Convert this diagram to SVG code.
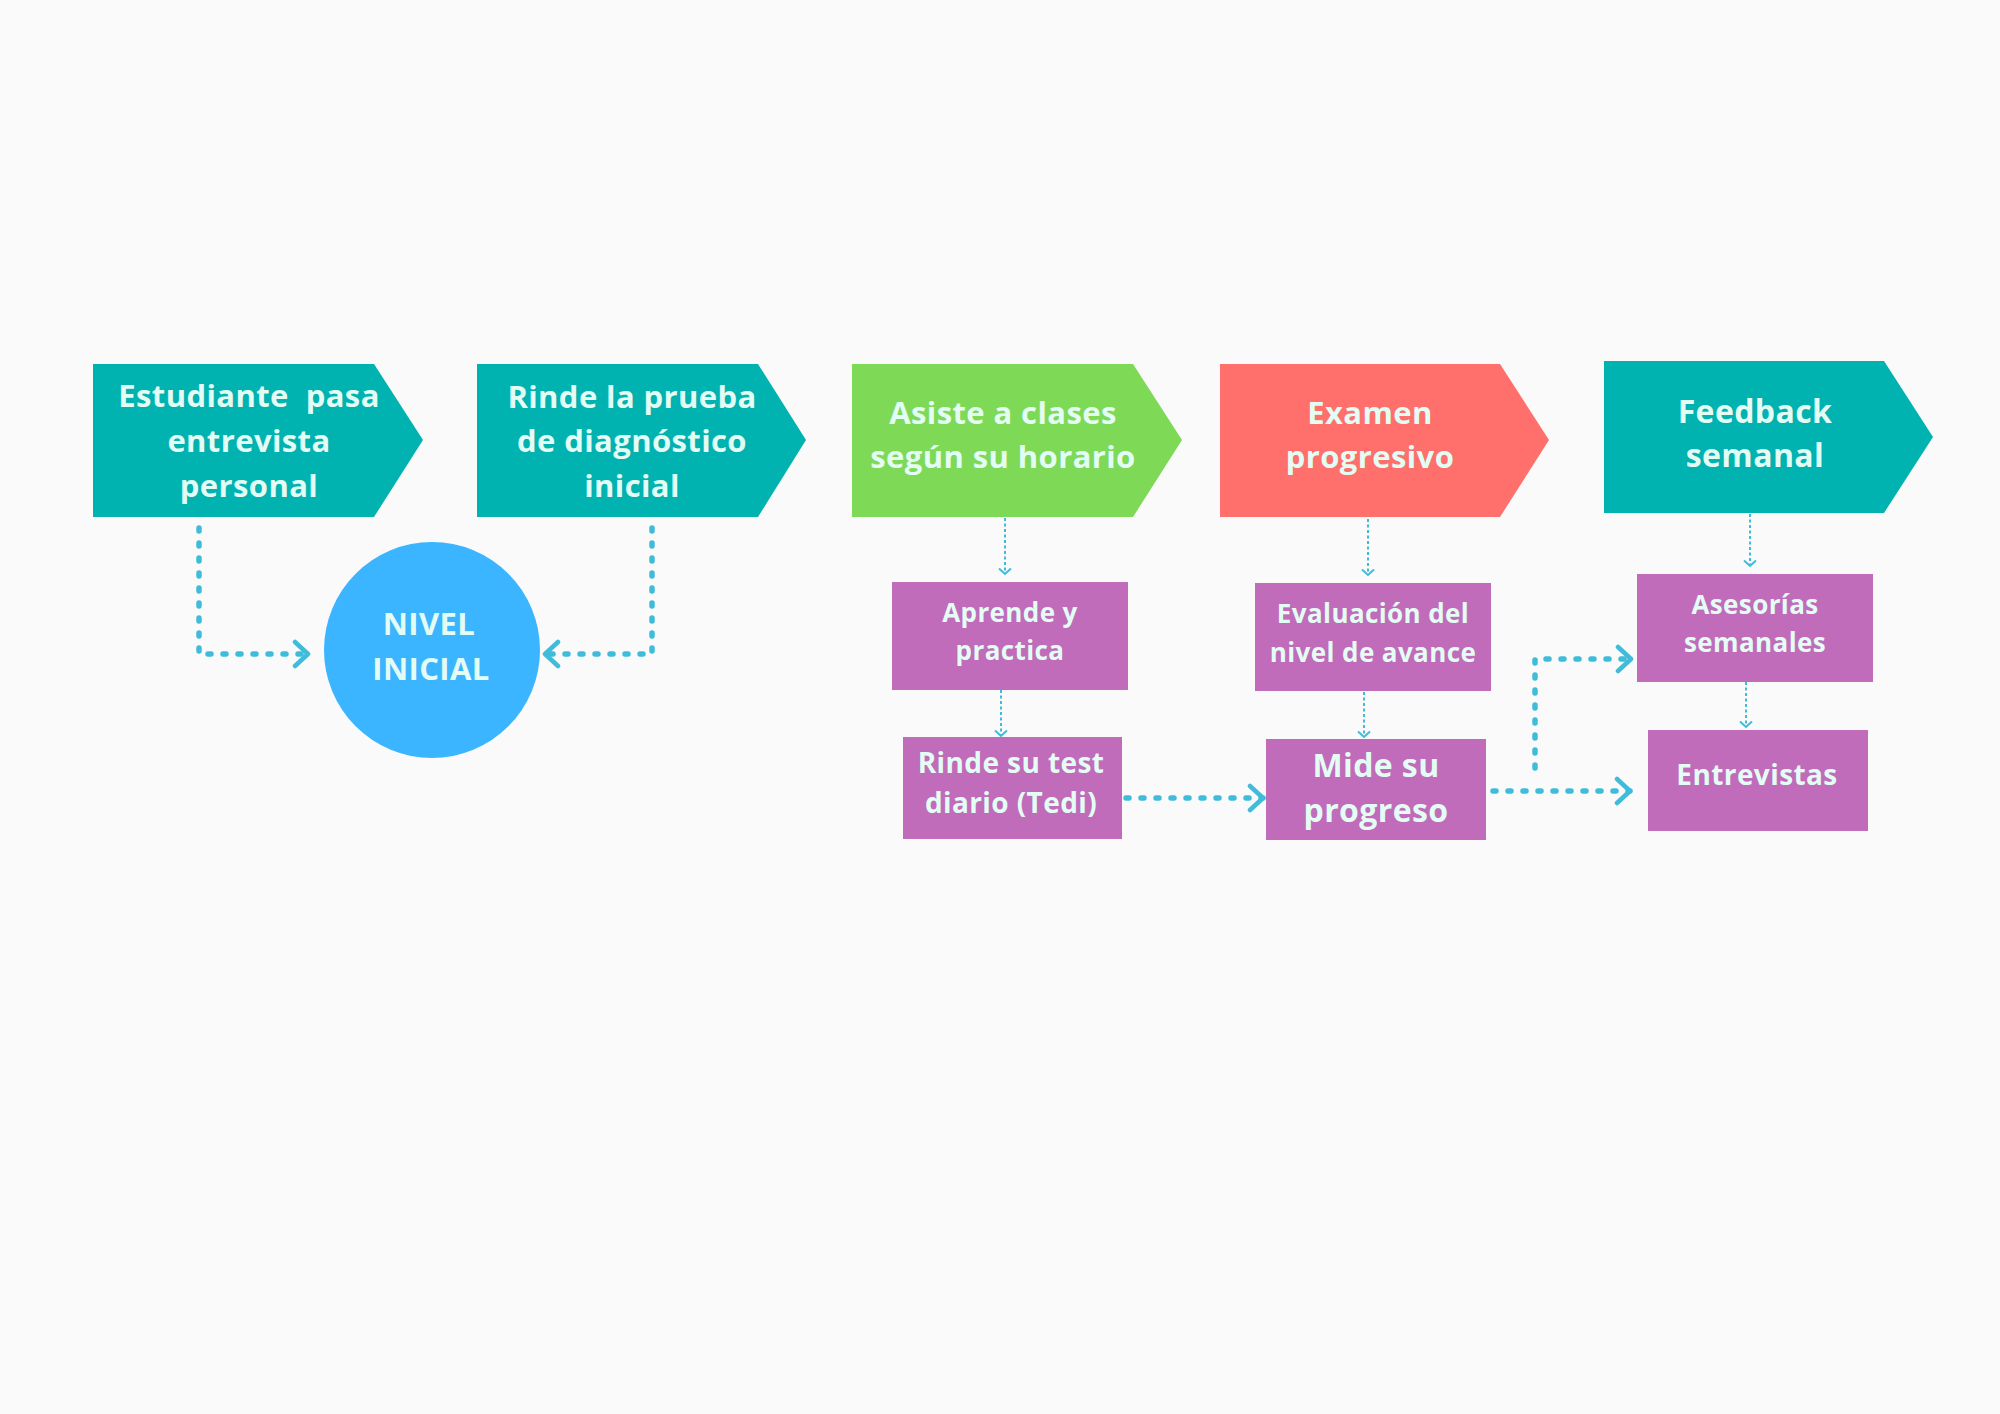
<svg xmlns="http://www.w3.org/2000/svg" width="2000" height="1414" viewBox="0 0 2000 1414">
<defs>
<style>
.teal{fill:#00B2B0}
.green{fill:#7ED957}
.red{fill:#FF6F6B}
.purple{fill:#C06CBA}
.circ{fill:#3BB5FF}
text{font-family:"Open Sans",Lato,"Liberation Sans",sans-serif;font-weight:bold;fill:#E3FCF4;text-anchor:middle;letter-spacing:0.4px}
.t31{font-size:31px}
.t26{font-size:26px}
.t28{font-size:28px}
.t31b{font-size:32px}
.thick{fill:none;stroke:#3FBCDA;stroke-width:5.5;stroke-linecap:round;stroke-dasharray:3 12}
.thin{fill:none;stroke:#3FBCDA;stroke-width:2;stroke-dasharray:3 2.5}
</style>
<marker id="ah" markerUnits="userSpaceOnUse" markerWidth="24" markerHeight="32" refX="16" refY="16" orient="auto" viewBox="0 0 24 32">
<path d="M3,4 L16,16 L3,28" fill="none" stroke="#3FBCDA" stroke-width="4.5" stroke-linecap="round" stroke-linejoin="round"/>
</marker>
<marker id="ahs" markerUnits="userSpaceOnUse" markerWidth="12" markerHeight="16" refX="7" refY="8" orient="auto" viewBox="0 0 12 16">
<path d="M1.5,2 L7,8 L1.5,14" fill="none" stroke="#3FBCDA" stroke-width="2"/>
</marker>
</defs>
<rect width="2000" height="1414" fill="#FAFAFA"/>

<g id="connectors">
<path class="thick" d="M199,528 V654 H308" marker-end="url(#ah)"/>
<path class="thick" d="M652,528 V654 H545" marker-end="url(#ah)"/>
<path class="thin" d="M1005,518 V574" marker-end="url(#ahs)"/>
<path class="thin" d="M1001,679 V736" marker-end="url(#ahs)"/>
<path class="thin" d="M1368,519 V575" marker-end="url(#ahs)"/>
<path class="thin" d="M1364,681 V737" marker-end="url(#ahs)"/>
<path class="thin" d="M1750,514 V566" marker-end="url(#ahs)"/>
<path class="thin" d="M1746,671 V727" marker-end="url(#ahs)"/>
<path class="thick" d="M1126,798 H1263" marker-end="url(#ah)"/>
<path class="thick" d="M1493,791 H1630" marker-end="url(#ah)"/>
<path class="thick" d="M1535,768 V659 H1631" marker-end="url(#ah)"/>
</g>

<g id="n1">
<path class="teal" d="M93,364 H374 L423,440 L374,517 H93 Z"/>
<text class="t31" x="249" y="407" xml:space="preserve" style="white-space:pre">Estudiante  pasa</text>
<text class="t31" x="249" y="452">entrevista</text>
<text class="t31" x="249" y="497">personal</text>
</g>
<g id="n2">
<path class="teal" d="M477,364 H758 L806,440 L758,517 H477 Z"/>
<text class="t31" x="632" y="408">Rinde la prueba</text>
<text class="t31" x="632" y="452">de diagnóstico</text>
<text class="t31" x="632" y="497">inicial</text>
</g>
<g id="n3">
<circle class="circ" cx="432" cy="650" r="108"/>
<text class="t31" x="429" y="635">NIVEL</text>
<text class="t31" x="431" y="680">INICIAL</text>
</g>
<g id="n4">
<path class="green" d="M852,364 H1133 L1182,440 L1133,517 H852 Z"/>
<text class="t31" x="1003" y="424">Asiste a clases</text>
<text class="t31" x="1003" y="468">según su horario</text>
</g>
<g id="n5">
<path class="red" d="M1220,364 H1500 L1549,440 L1500,517 H1220 Z"/>
<text class="t31" x="1370" y="424">Examen</text>
<text class="t31" x="1370" y="468">progresivo</text>
</g>
<g id="n6">
<path class="teal" d="M1604,361 H1884 L1933,437 L1884,513 H1604 Z"/>
<text class="t31b" x="1755" y="423">Feedback</text>
<text class="t31b" x="1755" y="467">semanal</text>
</g>
<g id="n7">
<rect class="purple" x="892" y="582" width="236" height="108"/>
<text class="t26" x="1010" y="622">Aprende y</text>
<text class="t26" x="1010" y="660">practica</text>
</g>
<g id="n8">
<rect class="purple" x="903" y="737" width="219" height="102"/>
<text class="t28" x="1011" y="773">Rinde su test</text>
<text class="t28" x="1011" y="813">diario (Tedi)</text>
</g>
<g id="n9">
<rect class="purple" x="1255" y="583" width="236" height="108"/>
<text class="t26" x="1373" y="623">Evaluación del</text>
<text class="t26" x="1373" y="662">nivel de avance</text>
</g>
<g id="n10">
<rect class="purple" x="1266" y="739" width="220" height="101"/>
<text class="t31b" x="1376" y="777">Mide su</text>
<text class="t31b" x="1376" y="822">progreso</text>
</g>
<g id="n11">
<rect class="purple" x="1637" y="574" width="236" height="108"/>
<text class="t26" x="1755" y="614">Asesorías</text>
<text class="t26" x="1755" y="652">semanales</text>
</g>
<g id="n12">
<rect class="purple" x="1648" y="730" width="220" height="101"/>
<text class="t28" x="1757" y="785">Entrevistas</text>
</g>
</svg>
